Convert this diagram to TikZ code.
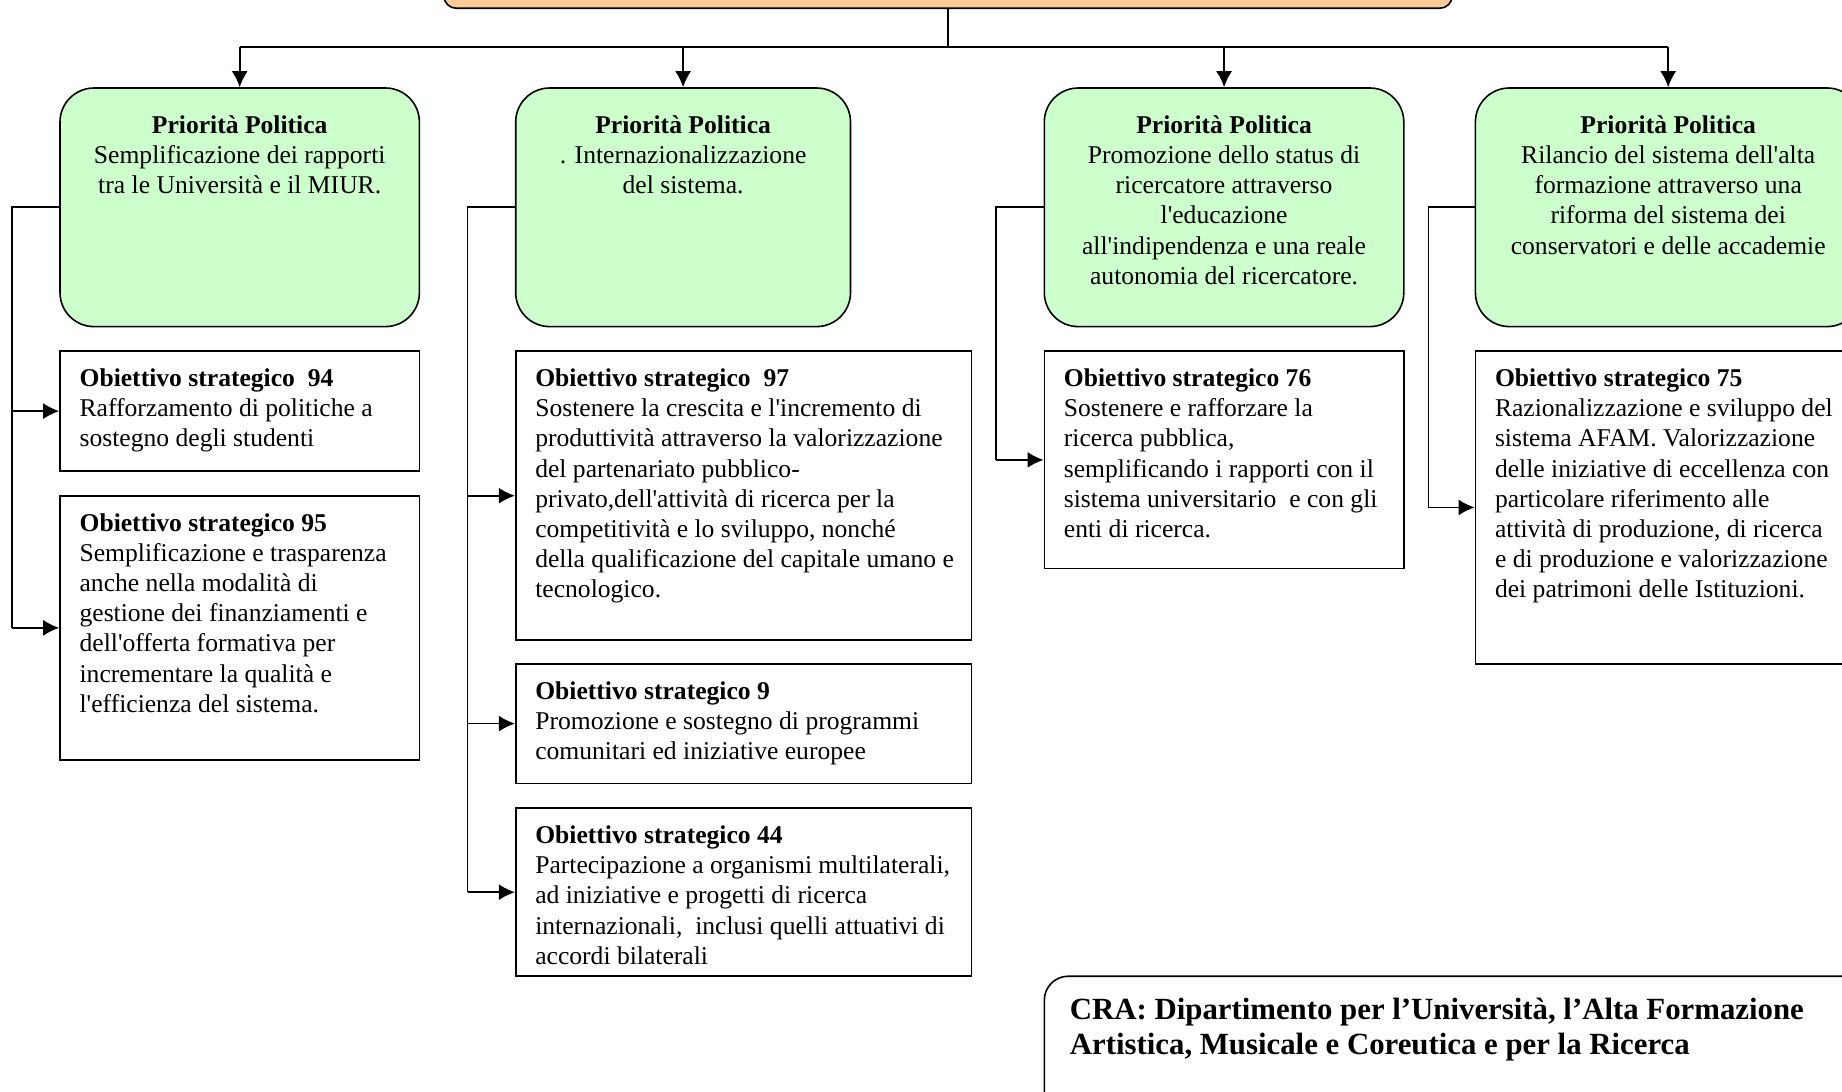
\documentclass[tikz,border=0pt]{standalone}
\usepackage{fontspec}
\setmainfont{Liberation Serif}
\usetikzlibrary{fit,arrows.meta}
\definecolor{headfill}{HTML}{FFCC99}
\definecolor{prifill}{HTML}{CCFFCC}
\newcommand\ap{\textquotesingle}
\tikzset{
  box/.style={draw=black, line width=0.8pt, inner sep=0pt},
  pribox/.style={box, fill=prifill, rounded corners=17pt},
  objbox/.style={box, fill=white},
  headbox/.style={box, fill=headfill, rounded corners=6pt},
  cornerbox/.style={box, rounded corners=12pt},
  pritext/.style={anchor=north, align=center, inner sep=0pt,
    font=\fontsize{12.8pt}{15.1pt}\selectfont},
  objtext/.style={anchor=north west, align=left, inner sep=0pt,
    font=\fontsize{12.8pt}{15.1pt}\selectfont},
  link/.style={line width=0.85pt},
  arr/.style={link, -{Latex[length=8pt,width=8pt]}},
}
\begin{document}
\begin{tikzpicture}[x=0.5pt, y=-0.5pt]
\useasboundingbox (0,0) rectangle (1842,1092);
\clip (0,0) rectangle (1842,1092);

% header box, mostly above the page
\node[headbox, fit={(444,-60)(1452,8.2)}] (head) {};

% priority boxes
\node[pribox, fit={(60,88)(419.4,326.6)}] (g1) {};
\node[pribox, fit={(515.7,88)(850.5,326.6)}] (g2) {};
\node[pribox, fit={(1044.3,88)(1403.8,326.6)}] (g3) {};
\node[pribox, fit={(1475.4,88)(1861,326.6)}] (g4) {};

\node[pritext] (pt1) at ([yshift=-14pt]g1.north) {\textbf{Priorità Politica}\\Semplificazione dei rapporti\\tra le Università e il MIUR.};
\node[pritext] (pt2) at ([yshift=-14pt]g2.north) {\textbf{Priorità Politica}\\. Internazionalizzazione\\del sistema.};
\node[pritext] (pt3) at ([yshift=-14pt]g3.north) {\textbf{Priorità Politica}\\Promozione dello status di\\ricercatore attraverso\\l\ap educazione\\all\ap indipendenza e una reale\\autonomia del ricercatore.};
\node[pritext] (pt4) at ([yshift=-14pt]g4.north) {\textbf{Priorità Politica}\\Rilancio del sistema dell\ap alta\\formazione attraverso una\\riforma del sistema dei\\conservatori e delle accademie};

% strategic objectives
\node[objbox, fit={(60,351.2)(419.4,471)}] (o94) {};
\node[objbox, fit={(60,495.7)(419.4,760)}] (o95) {};
\node[objbox, fit={(515.7,351.2)(971.5,640.2)}] (o97) {};
\node[objbox, fit={(515.7,663.7)(971.5,783.5)}] (o9) {};
\node[objbox, fit={(515.7,808.2)(971.5,976.2)}] (o44) {};
\node[objbox, fit={(1044.3,351.2)(1403.8,568.6)}] (o76) {};
\node[objbox, fit={(1475.4,351.2)(1866,663.7)}] (o75) {};

\node[objtext] (ot94) at ([xshift=10pt,yshift=-9pt]o94.north west) {\textbf{Obiettivo strategico\ \ 94}\\Rafforzamento di politiche a\\sostegno degli studenti};
\node[objtext] (ot95) at ([xshift=10pt,yshift=-9pt]o95.north west) {\textbf{Obiettivo strategico 95}\\Semplificazione e trasparenza\\anche nella modalità di\\gestione dei finanziamenti e\\dell\ap offerta formativa per\\incrementare la qualità e\\l\ap efficienza del sistema.};
\node[objtext] (ot97) at ([xshift=10pt,yshift=-9pt]o97.north west) {\textbf{Obiettivo strategico\ \ 97}\\Sostenere la crescita e l\ap incremento di\\produttività attraverso la valorizzazione\\del partenariato pubblico-\\privato,dell\ap attività di ricerca per la\\competitività e lo sviluppo, nonché\\della qualificazione del capitale umano e\\tecnologico.};
\node[objtext] (ot9) at ([xshift=10pt,yshift=-9pt]o9.north west) {\textbf{Obiettivo strategico 9}\\Promozione e sostegno di programmi\\comunitari ed iniziative europee};
\node[objtext] (ot44) at ([xshift=10pt,yshift=-9pt]o44.north west) {\textbf{Obiettivo strategico 44}\\Partecipazione a organismi multilaterali,\\ad iniziative e progetti di ricerca\\internazionali,\ \ inclusi quelli attuativi di\\accordi bilaterali};
\node[objtext] (ot76) at ([xshift=10pt,yshift=-9pt]o76.north west) {\textbf{Obiettivo strategico 76}\\Sostenere e rafforzare la\\ricerca pubblica,\\semplificando i rapporti con il\\sistema universitario\ \ e con gli\\enti di ricerca.};
\node[objtext] (ot75) at ([xshift=10pt,yshift=-9pt]o75.north west) {\textbf{Obiettivo strategico 75}\\Razionalizzazione e sviluppo del\\sistema AFAM. Valorizzazione\\delle iniziative di eccellenza con\\particolare riferimento alle\\attività di produzione, di ricerca\\e di produzione e valorizzazione\\dei patrimoni delle Istituzioni.};

% department box in the lower right corner
\node[cornerbox, fit={(1044.3,976.2)(1900,1130)}] (cra) {};
\node[objtext, font=\bfseries\fontsize{15.4pt}{17.6pt}\selectfont] (cratext) at ([xshift=13pt,yshift=-11pt]cra.north west) {CRA: Dipartimento per l’Università, l’Alta Formazione\\Artistica, Musicale e Coreutica e per la Ricerca};

% distribution bus from the header to the priorities
\coordinate (bus) at (0,47);
\draw[link] (head.south) -- (head.south |- bus);
\draw[link] (g1.north |- bus) -- (g4.north |- bus);
\foreach \g in {g1,g2,g3,g4} \draw[arr] (\g.north |- bus) -- (\g.north);

% feeds from each priority to its objectives
\coordinate (f1) at (11.7,0);
\coordinate (f2) at (467.5,0);
\coordinate (f3) at (996.1,0);
\coordinate (f4) at (1428.4,0);
\draw[link] (g1.west) -- (g1.west -| f1) -- (o95.west -| f1);
\draw[arr] (o94.west -| f1) -- (o94.west);
\draw[arr] (o95.west -| f1) -- (o95.west);
\draw[link] (g2.west) -- (g2.west -| f2) -- (o44.west -| f2);
\draw[arr] (o97.west -| f2) -- (o97.west);
\draw[arr] (o9.west -| f2) -- (o9.west);
\draw[arr] (o44.west -| f2) -- (o44.west);
\draw[link] (g3.west) -- (g3.west -| f3) -- (o76.west -| f3);
\draw[arr] (o76.west -| f3) -- (o76.west);
\draw[link] (g4.west) -- (g4.west -| f4) -- (o75.west -| f4);
\draw[arr] (o75.west -| f4) -- (o75.west);
\end{tikzpicture}
\end{document}
